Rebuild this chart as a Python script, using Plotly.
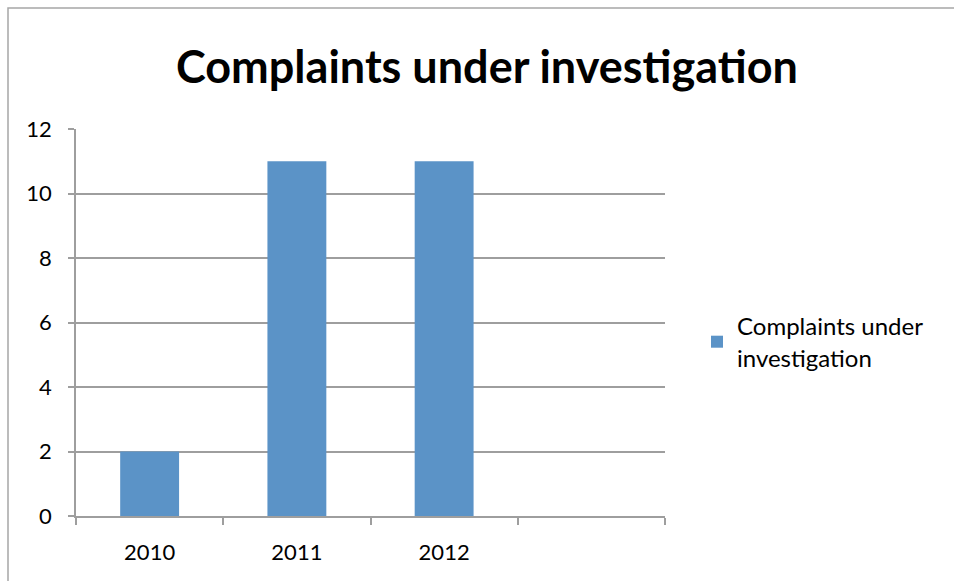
import plotly.graph_objects as go

categories = ["2010", "2011", "2012", " "]
values = [2, 11, 11, None]
series_name = "Complaints under<br>investigation"
title_text = "Complaints under investigation"

W, H = 954, 581
ML, MR, MT, MB = 76, 289, 129, 65
pw = W - ML - MR
ph = H - MT - MB

fig = go.Figure()
fig.add_trace(go.Bar(x=categories, y=values, name=series_name,
                     marker=dict(color="#5b93c7", line=dict(width=0)),
                     showlegend=True))

grid = "#9e9e9e"
fnt = "Lato, Open Sans, sans-serif"
fig.update_layout(
    width=W, height=H,
    margin=dict(l=ML, r=MR, t=MT, b=MB),
    paper_bgcolor="white", plot_bgcolor="white",
    font=dict(family=fnt, color="black", size=22),
    title=dict(text="<b>" + title_text + "</b>", x=487 / W, xanchor="center",
               xref="container", y=1 - 67 / H, yanchor="middle", yref="container",
               font=dict(size=45, family=fnt, color="black")),
    bargap=0.6,
    showlegend=True,
    legend=dict(xref="container", yref="container", x=697 / W, y=1 - 304 / H,
                xanchor="left", yanchor="top", font=dict(size=24, family=fnt),
                itemwidth=30, tracegroupgap=0, bgcolor="rgba(0,0,0,0)"),
    xaxis=dict(type="category", categoryorder="array", categoryarray=categories,
               range=[-0.5, 3.5], tickson="boundaries", ticks="outside", ticklen=7,
               tickcolor=grid, tickwidth=1.5, showline=True, linecolor=grid, linewidth=1.5,
               showgrid=False, ticklabelstandoff=16, tickfont=dict(size=22, family=fnt)),
    yaxis=dict(range=[0, 12], tickvals=[0, 2, 4, 6, 8, 10, 12], ticks="outside", ticklen=6,
               tickcolor=grid, tickwidth=1.5, showline=True, linecolor=grid, linewidth=1.5,
               showgrid=True, gridcolor=grid, gridwidth=1.5, zeroline=False,
               ticklabelstandoff=12, tickfont=dict(size=22, family=fnt)),
    shapes=[dict(type="rect", xref="paper", yref="paper",
                 x0=(8 - ML) / pw, x1=(W + 20 - ML) / pw,
                 y0=-1, y1=(H - MB - 8) / ph,
                 line=dict(color="#a6a6a6", width=1.5), fillcolor="rgba(0,0,0,0)", layer="below")],
)

fig.write_html("out.html")
